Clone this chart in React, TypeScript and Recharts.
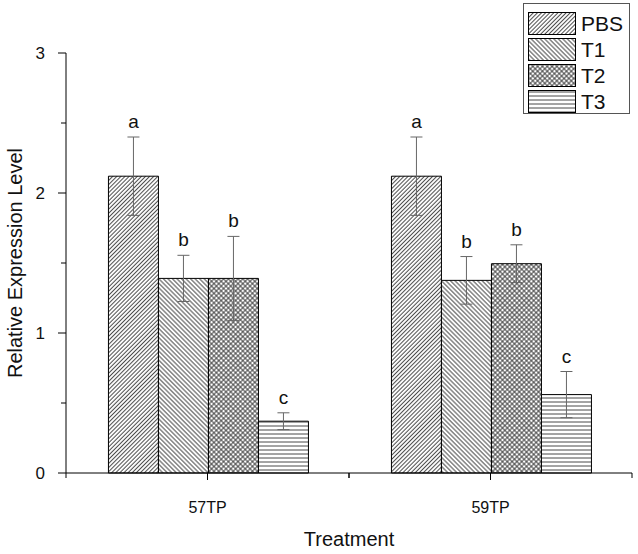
import { BarChart, Bar, XAxis, YAxis, ErrorBar, Legend } from 'recharts';

const categories = ['57TP', '59TP'];
const pbs = [2.12, 2.12];
const pbsErr = [0.28, 0.28];
const t1 = [1.39, 1.376];
const t1Err = [0.165, 0.17];
const t2 = [1.39, 1.495];
const t2Err = [0.3, 0.135];
const t3 = [0.37, 0.56];
const t3Err = [0.06, 0.165];
const pbsSig = ['a', 'a'];
const t1Sig = ['b', 'b'];
const t2Sig = ['b', 'b'];
const t3Sig = ['c', 'c'];
const yTicks = [0, 0.5, 1, 1.5, 2, 2.5, 3];

const data = categories.map((name, i) => ({
  name,
  pbs: pbs[i], pbsErr: pbsErr[i],
  t1: t1[i], t1Err: t1Err[i],
  t2: t2[i], t2Err: t2Err[i],
  t3: t3[i], t3Err: t3Err[i],
}));

const series = [
  { key: 'pbs', name: 'PBS', fill: 'url(#pPBS)', err: pbsErr, sig: pbsSig },
  { key: 't1', name: 'T1', fill: 'url(#pT1)', err: t1Err, sig: t1Sig },
  { key: 't2', name: 'T2', fill: 'url(#pT2)', err: t2Err, sig: t2Sig },
  { key: 't3', name: 'T3', fill: 'url(#pT3)', err: t3Err, sig: t3Sig },
];

const FONT = '"Liberation Sans", Arial, sans-serif';
const CHART_W = 638;
const CHART_H = 554;
const Y_AXIS_W = 66;
const MARGIN_R = 6;
const PLOT_W = CHART_W - Y_AXIS_W - MARGIN_R;

const Patterns = () => (
  <svg width={0} height={0} style={{ position: 'absolute' }}>
    <defs>
      <pattern id="pPBS" patternUnits="userSpaceOnUse" width={2.9} height={2.9} patternTransform="rotate(45)">
        <rect width={2.9} height={2.9} fill="#fff" />
        <line x1={1.4} y1={0} x2={1.4} y2={2.9} stroke="#333" strokeWidth={0.9} />
      </pattern>
      <pattern id="pT1" patternUnits="userSpaceOnUse" width={3.2} height={3.2} patternTransform="rotate(-45)">
        <rect width={3.2} height={3.2} fill="#fff" />
        <line x1={1.6} y1={0} x2={1.6} y2={3.2} stroke="#333" strokeWidth={0.9} />
      </pattern>
      <pattern id="pT2" patternUnits="userSpaceOnUse" width={3.4} height={3.4} patternTransform="rotate(45)">
        <rect width={3.4} height={3.4} fill="#fff" />
        <line x1={1.7} y1={0} x2={1.7} y2={3.4} stroke="#333" strokeWidth={0.9} />
        <line x1={0} y1={1.7} x2={3.4} y2={1.7} stroke="#333" strokeWidth={0.9} />
      </pattern>
      <pattern id="pT3" patternUnits="userSpaceOnUse" width={4} height={4}>
        <rect width={4} height={4} fill="#fff" />
        <line x1={0} y1={2} x2={4} y2={2} stroke="#333" strokeWidth={0.9} />
      </pattern>
    </defs>
  </svg>
);

// category ticks at the centre, short ticks at the band edges
const XTick = (props: any) => {
  const { x, y, payload } = props;
  const half = PLOT_W / categories.length / 2;
  return (
    <g>
      <line x1={x} y1={y} x2={x} y2={y + 7} stroke="#000" />
      <line x1={x - half} y1={y} x2={x - half} y2={y + 5} stroke="#000" />
      <line x1={x + half} y1={y} x2={x + half} y2={y + 5} stroke="#000" />
      <text x={x} y={y + 40} textAnchor="middle" fontSize={16} fill="#111" fontFamily={FONT}>
        {payload.value}
      </text>
    </g>
  );
};

const YTick = (props: any) => {
  const { x, y, payload } = props;
  const major = Number.isInteger(payload.value);
  return (
    <g>
      <line x1={x - (major ? 8 : 5)} y1={y} x2={x} y2={y} stroke="#000" />
      {major && (
        <text x={x - 21} y={y} dy="0.36em" textAnchor="end" fontSize={17} fill="#111" fontFamily={FONT}>
          {payload.value}
        </text>
      )}
    </g>
  );
};

const YLabel = (props: any) => {
  const vb = props.viewBox;
  const cx = vb.x + 21.5;
  const cy = vb.y + vb.height / 2;
  return (
    <text x={cx} y={cy} transform={`rotate(-90, ${cx}, ${cy})`} textAnchor="middle" fontSize={20} fill="#111" fontFamily={FONT}>
      Relative Expression Level
    </text>
  );
};

const sigLabel = (s: typeof series[number]) => (props: any) => {
  const { x, y, width, height, value, index } = props;
  if (!value) return null;
  const perUnit = height / value;
  const top = y - s.err[index] * perUnit;
  return (
    <text x={x + width / 2} y={top - 9} textAnchor="middle" fontSize={19} fill="#111" fontFamily={FONT}>
      {s.sig[index]}
    </text>
  );
};

const LegendBox = () => (
  <div
    style={{
      border: '1px solid #555',
      width: 107,
      height: 111,
      boxSizing: 'border-box',
      paddingTop: 6,
      paddingLeft: 4,
      background: '#fff',
      fontFamily: FONT,
    }}
  >
    {series.map((s) => (
      <div key={s.key} style={{ display: 'flex', alignItems: 'center', height: 26 }}>
        <svg width={48} height={23}>
          <rect x={0.5} y={0.5} width={47} height={22} fill={s.fill} stroke="#000" />
        </svg>
        <span style={{ marginLeft: 5, fontSize: 21, color: '#111', lineHeight: '23px' }}>{s.name}</span>
      </div>
    ))}
  </div>
);

const App = () => {
  return (
    <div style={{ position: 'absolute', left: 0, top: 0, width: CHART_W, height: CHART_H, background: '#fff' }}>
      <Patterns />
      <BarChart
        width={CHART_W}
        height={CHART_H}
        data={data}
        margin={{ top: 53, right: MARGIN_R, left: 0, bottom: 0 }}
        barCategoryGap="15%"
        barGap={0}
        style={{ fontFamily: FONT }}
      >
        <XAxis
          dataKey="name"
          height={81}
          tickSize={0}
          tickMargin={0}
          tickLine={false}
          axisLine={{ stroke: '#000' }}
          tick={(p: any) => <XTick {...p} />}
          label={{ value: 'Treatment', position: 'insideBottom', offset: 8, fontSize: 20, fill: '#111', fontFamily: FONT }}
        />
        <YAxis
          width={Y_AXIS_W}
          domain={[0, 3]}
          ticks={yTicks}
          interval={0}
          tickSize={0}
          tickMargin={0}
          tickLine={false}
          axisLine={{ stroke: '#000' }}
          tick={(p: any) => <YTick {...p} />}
          label={{ content: (p: any) => <YLabel {...p} /> }}
        />
        <Legend
          layout="horizontal"
          verticalAlign="middle"
          align="center"
          width={107}
          wrapperStyle={{ left: 523, top: 3, width: 107 }}
          content={() => <LegendBox />}
        />
        {series.map((s) => (
          <Bar
            key={s.key}
            dataKey={s.key}
            name={s.name}
            fill={s.fill}
            stroke="#000"
            strokeWidth={1}
            isAnimationActive={false}
            label={sigLabel(s)}
          >
            <ErrorBar dataKey={`${s.key}Err`} width={6} stroke="#666" strokeWidth={1} direction="y" />
          </Bar>
        ))}
      </BarChart>
    </div>
  );
};

export default App;
